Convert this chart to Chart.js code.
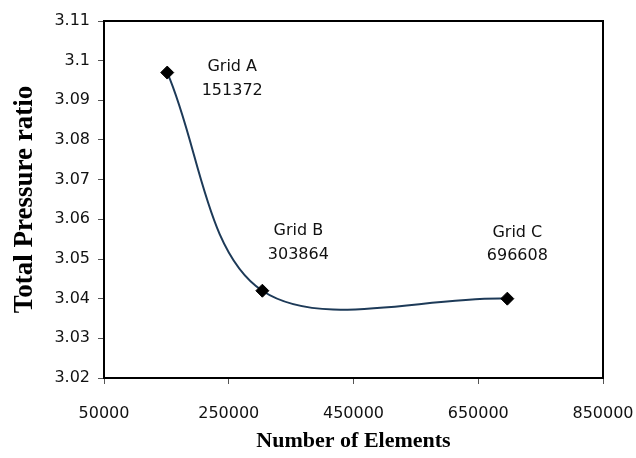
<!DOCTYPE html>
<html lang="en">
<head>
  <meta charset="UTF-8" />
  <title>Total Pressure ratio vs Number of Elements</title>
  <script src="https://cdn.jsdelivr.net/npm/chart.js"></script>
  <style>
    body { margin: 0; background: #fff; }
    #wrap { width: 636px; height: 458px; }
  </style>
</head>
<body>
  <div id="wrap"><canvas id="grafico" width="636" height="458"></canvas></div>

  <script>
    // datos
    const gridNames = ['Grid A', 'Grid B', 'Grid C'];
    const elements = [151372, 303864, 696608];
    const pressureRatio = [3.097, 3.042, 3.040];

    // ejes
    const xMin = 50000, xMax = 850000, xStep = 200000;
    const yMin = 3.02, yMax = 3.11, yStep = 0.01;

    // desplazamiento de cada etiqueta respecto a su punto (px)
    const labelOffsets = [[65, -6, 18], [36, -60, -36], [10, -66, -43]];

    const gridLabels = {
      id: 'gridLabels',
      afterDatasetsDraw(chart) {
        const ctx = chart.ctx;
        const meta = chart.getDatasetMeta(0);
        ctx.save();
        ctx.font = '16px "DejaVu Sans"';
        ctx.fillStyle = '#111';
        ctx.textAlign = 'center';
        ctx.textBaseline = 'middle';
        meta.data.forEach((pt, i) => {
          const [dx, dy1, dy2] = labelOffsets[i];
          ctx.fillText(gridNames[i], pt.x + dx, pt.y + dy1);
          ctx.fillText(String(elements[i]), pt.x + dx, pt.y + dy2);
        });
        ctx.restore();
      }
    };

    const frame = {
      id: 'frame',
      beforeDatasetsDraw(chart) {
        const { left, top, right, bottom } = chart.chartArea;
        const ctx = chart.ctx;
        ctx.save();
        ctx.strokeStyle = '#000';
        ctx.lineWidth = 2;
        ctx.strokeRect(left, top, right - left, bottom - top);
        ctx.restore();
      }
    };

    const ctx = document.getElementById('grafico').getContext('2d');
    const chart = new Chart(ctx, {
      type: 'line',
      data: {
        datasets: [{
          data: elements.map((x, i) => ({ x: x, y: pressureRatio[i] })),
          borderColor: '#1d3a58',
          borderWidth: 2,
          tension: 0.34,
          pointStyle: 'rectRot',
          pointRadius: 6.5,
          pointBackgroundColor: '#000',
          pointBorderColor: '#000',
          pointBorderWidth: 1,
          fill: false
        }]
      },
      options: {
        responsive: false,
        animation: false,
        layout: { padding: { top: 21, right: 33, left: 0, bottom: 0 } },
        plugins: { legend: { display: false }, tooltip: { enabled: false } },
        scales: {
          x: {
            type: 'linear',
            min: xMin, max: xMax,
            afterFit: (s) => { s.height = 80; s.paddingRight = 0; s.paddingLeft = 0; },
            ticks: {
              stepSize: xStep,
              color: '#111',
              font: { family: 'DejaVu Sans', size: 16 },
              padding: 20,
              maxRotation: 0,
              callback: (v) => String(v)
            },
            grid: { drawOnChartArea: false, color: '#555', tickLength: 6, lineWidth: 1 },
            border: { color: '#000', width: 2 },
            title: {
              display: true,
              text: 'Number of Elements',
              color: '#000',
              font: { family: 'Liberation Serif', size: 22, weight: 'bold' },
              padding: { top: 0, bottom: 3 }
            }
          },
          y: {
            min: yMin, max: yMax,
            afterFit: (s) => { s.width = 104; },
            ticks: {
              stepSize: yStep,
              color: '#111',
              font: { family: 'DejaVu Sans', size: 16 },
              padding: 8,
              callback: (v) => String(Number(v.toFixed(2)))
            },
            grid: { drawOnChartArea: false, color: '#555', tickLength: 6, lineWidth: 1 },
            border: { color: '#000', width: 2 },
            title: {
              display: true,
              text: 'Total Pressure ratio',
              color: '#000',
              font: { family: 'Liberation Serif', size: 27, weight: 'bold' },
              padding: { top: 9, bottom: 0 }
            }
          }
        }
      },
      plugins: [frame, gridLabels]
    });
  </script>
</body>
</html>
